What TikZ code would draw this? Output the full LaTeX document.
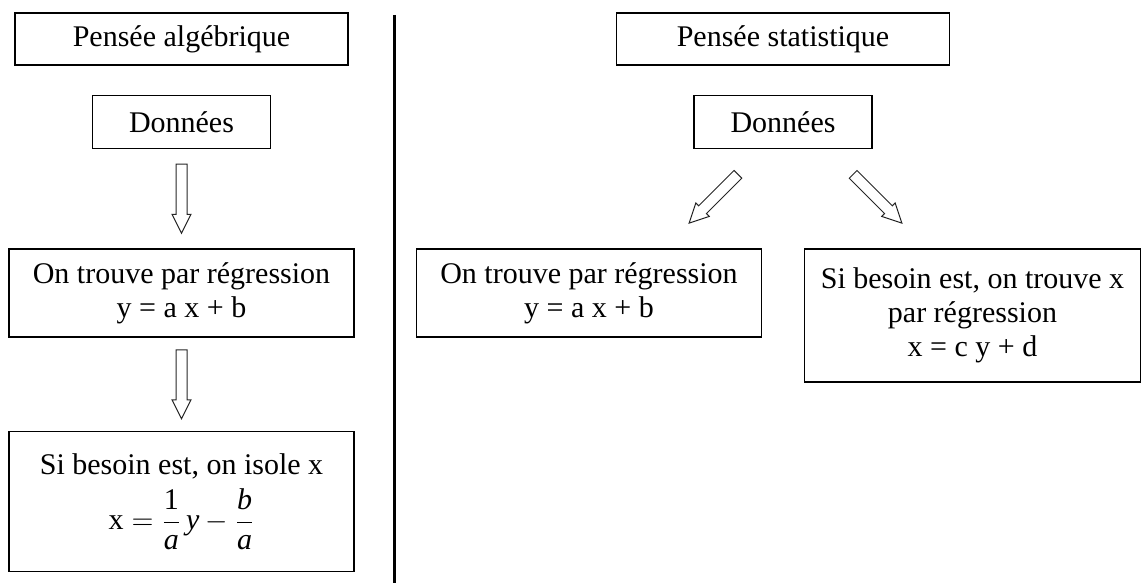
\documentclass[tikz,border=0pt]{standalone}
\usepackage{amsmath}
\usepackage{fontspec}
\setmainfont{Liberation Serif}
\usetikzlibrary{positioning, calc}

\begin{document}
\begin{tikzpicture}[
    node distance=14.5pt,
    boite/.style={rectangle, draw, line width=0.75pt, align=center, font=\fontsize{15}{17}\selectfont, inner sep=2pt},
    titre/.style={boite, minimum width=166.5pt, minimum height=26pt},
    donnees/.style={boite, minimum width=89pt, minimum height=26.5pt},
    grande/.style={boite, minimum width=172.5pt, minimum height=44pt},
    fleche/.style={draw=black!85, line width=0.5pt, to path={
        let \p1=($(\tikztotarget)-(\tikztostart)$), \n1={veclen(\x1,\y1)/2}, \n2={atan2(\y1,\x1)} in
        {[shift={(\tikztostart)}, rotate=\n2]
        (\n1-17.25pt,-2.75pt) -- (\n1+7.75pt,-2.75pt) -- (\n1+7.75pt,-4.75pt) -- (\n1+17.25pt,0pt)
        -- (\n1+7.75pt,4.75pt) -- (\n1+7.75pt,2.75pt) -- (\n1-17.25pt,2.75pt) -- cycle}}},
]
\path[use as bounding box] (0,0) rectangle (570.5pt,-291.5pt);

% ============ Pensée algébrique (gauche) ============
\node[titre] (titre_alg) at (90.75pt,-19.5pt) {Pensée algébrique};
\node[donnees, below=of titre_alg] (donnees_alg) {Données};
\node[grande, below=49.5pt of donnees_alg] (regr_alg) {On trouve par régression\\y = a x + b};
\node[grande, minimum height=70pt, below=46.5pt of regr_alg] (isole_alg) {Si besoin est, on isole x\\[4pt]
    $\text{x} = \dfrac{\text{1}}{\textit{a}}\,\textit{y}-\dfrac{\textit{b}}{\textit{a}}$};

% ============ Pensée statistique (droite) ============
\node[titre] (titre_stat) at (391.5pt,-19.5pt) {Pensée statistique};
\node[donnees, below=of titre_stat] (donnees_stat) {Données};
\node[grande, below=49.5pt of donnees_stat, xshift=-97pt] (regr_stat) {On trouve par régression\\y = a x + b};
\node[boite, minimum width=168pt, minimum height=66.5pt, below=49.5pt of donnees_stat, xshift=94.75pt] (inv_stat) {Si besoin est, on trouve x\\par régression\\x = c y + d};

% séparation
\draw[line width=1.5pt] (197pt,-7.5pt) -- (197pt,-291.5pt);

% ============ Flèches ============
\draw[fleche] (donnees_alg.south) to (regr_alg.north);
\draw[fleche] (regr_alg.south) to (isole_alg.north);

\coordinate (dep_g) at ($(donnees_stat.south)+(-10pt,0)$);
\coordinate (arr_g) at ($(regr_stat.north)+(37.5pt,0)$);
\coordinate (dep_d) at ($(donnees_stat.south)+(22.5pt,0)$);
\coordinate (arr_d) at ($(inv_stat.north)+(-22.75pt,0)$);
\draw[fleche] (dep_g) to (arr_g);
\draw[fleche] (dep_d) to (arr_d);

\end{tikzpicture}
\end{document}
